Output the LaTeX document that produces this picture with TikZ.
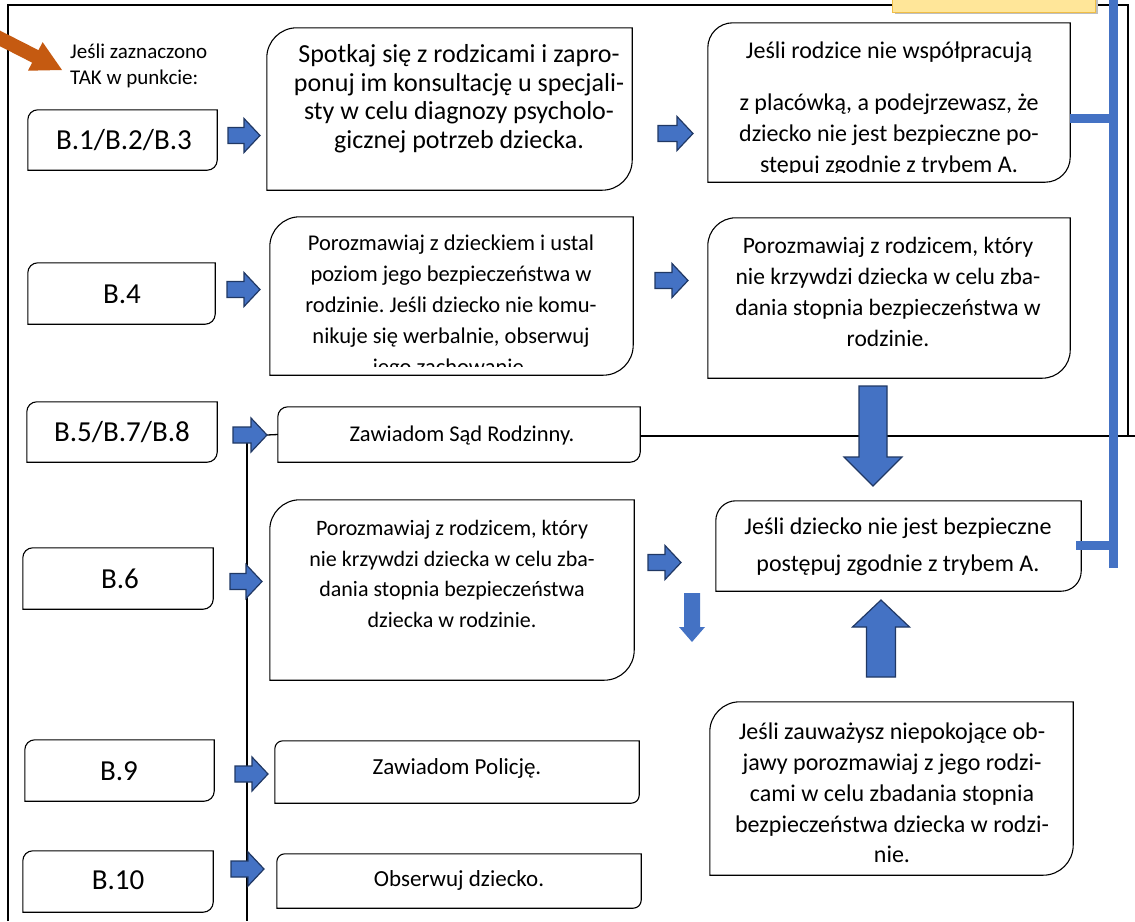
\documentclass[tikz,border=0pt]{standalone}
\usepackage{fontspec}
\setmainfont{Carlito}
\frenchspacing
\usetikzlibrary{calc,fit}
\definecolor{bl}{RGB}{68,114,196}
\definecolor{bld}{RGB}{32,56,100}
\definecolor{org}{RGB}{197,90,17}
\definecolor{yel}{RGB}{255,230,153}
\definecolor{yeld}{RGB}{240,190,70}
\tikzset{
  frame/.style={line width=2pt, black},
  thinline/.style={line width=1.3pt, black},
  boxline/.style={line width=1.1pt, black},
  blockarrow/.style={fill=bl, draw=bld, line width=1.2pt, line join=miter},
  softarrow/.style={fill=bl, draw=none},
  blueline/.style={line width=9pt, bl},
  txt/.style={align=center, inner sep=0pt, font=\fontsize{22}{29}\selectfont},
  lbl/.style={align=center, inner sep=0pt, font=\fontsize{29}{34}\selectfont},
  small/.style={align=center, inner sep=0pt, font=\fontsize{23}{28}\selectfont},
}
% diagonal-rounded box around a named node
\newcommand\dbox[2]{\draw[boxline] (#1.south west) -- ($(#1.north west)+(0,#2)$) .. controls ($(#1.north west)+(0,0.448*#2)$) and ($(#1.north west)+(0.448*#2,0)$) .. ($(#1.north west)+(#2,0)$) -- (#1.north east) -- ($(#1.south east)+(0,-#2)$) .. controls ($(#1.south east)+(0,-0.448*#2)$) and ($(#1.south east)+(-0.448*#2,0)$) .. ($(#1.south east)+(-#2,0)$) -- cycle;}
\newcommand\mkbox[6]{\node[fit={(#2,#3) (#4,#5)}, inner sep=0pt] (#1) {}; \dbox{#1}{#6}}
% right block arrow: x-start, x-tip, y-centre
\newcommand\rarr[3]{\filldraw[blockarrow] (#1,#3-8) -- (#2-16,#3-8) -- (#2-16,#3-17) -- (#2,#3) -- (#2-16,#3+17) -- (#2-16,#3+8) -- (#1,#3+8) -- cycle;}
% vertical block arrow: style, cx, tail y, head-base y, tip y, shaft half, head half
\newcommand\varr[7]{\filldraw[#1] (#2-#6,#3) -- (#2+#6,#3) -- (#2+#6,#4) -- (#2+#7,#4) -- (#2,#5) -- (#2-#7,#4) -- (#2-#6,#4) -- cycle;}
\begin{document}
\begin{tikzpicture}[x=1pt,y=-1pt]
\useasboundingbox (0,0) rectangle (1135,921);
\fill[white] (0,0) rectangle (1135,921);

% frame
\draw[frame] (8,921) -- (8,5) -- (1128,5) -- (1128,436);

% yellow box with shadow
\fill[black!25] (895,-5) rectangle (1098,14);
\filldraw[fill=yel, draw=yeld, line width=1pt] (892,-5) rectangle (1095,12);

% orange arrow
\fill[org] (-1.6,29.8) -- (38.5,50.2) -- (42.6,42.1) -- (62,70) -- (28,70.7) -- (32.1,62.6) -- (-8,42.2) -- cycle;
\node[align=left, anchor=west, inner sep=0pt, font=\fontsize{21}{26}\selectfont] (intro) at (70,66) {Jeśli zaznaczono\\TAK w punkcie:};

% left label boxes
\mkbox{bA}{28}{110}{217}{170}{10}
\node[lbl] (lA) at (124,140) {B.1/B.2/B.3};
\mkbox{bB}{28}{263}{215}{324}{10}
\node[lbl] (lB) at (122,294) {B.4};
\mkbox{bC}{27}{402}{217}{462}{10}
\node[lbl] (lC) at (122,432) {B.5/B.7/B.8};
\mkbox{bD}{23}{548}{213}{609}{10}
\node[lbl] (lD) at (120,579) {B.6};
\mkbox{bE}{25}{740}{214}{801}{10}
\node[lbl] (lE) at (119,771) {B.9};
\mkbox{bF}{23}{851}{213}{912}{10}
\node[lbl] (lF) at (118,880) {B.10};

% text boxes
\mkbox{t1}{267}{28}{632}{190}{30}
\node[txt, font=\fontsize{26}{28.5}\selectfont] (x1) at (459,98.5) {Spotkaj się z rodzicami i zapro-\\ponuj im konsultację u specjali-\\sty w celu diagnozy psycholo-\\gicznej potrzeb dziecka.};

\mkbox{t2}{708}{23}{1070}{182}{25}
\node[txt, font=\fontsize{24}{31}\selectfont] (x2a) at (889,52) {Jeśli rodzice nie współpracują};
\begin{scope}
\clip (708,60) rectangle (1070,172);
\node[txt, font=\fontsize{24}{31}\selectfont] (x2b) at (889,135) {z placówką, a podejrzewasz, że\\dziecko nie jest bezpieczne po-\\stępuj zgodnie z trybem A.};
\end{scope}

\mkbox{t3}{270}{217}{633}{375}{30}
\begin{scope}
\clip (270,217) rectangle (633,366);
\node[txt, font=\fontsize{22.5}{31}\selectfont] (x3) at (451,307) {Porozmawiaj z dzieckiem i ustal\\poziom jego bezpieczeństwa w\\rodzinie. Jeśli dziecko nie komu-\\nikuje się werbalnie, obserwuj\\jego zachowanie.};
\end{scope}

\mkbox{t4}{708}{218}{1070}{378}{28}
\node[txt, font=\fontsize{23.5}{31}\selectfont] (x4) at (888,292) {Porozmawiaj z rodzicem, który\\nie krzywdzi dziecka w celu zba-\\dania stopnia bezpieczeństwa w\\rodzinie.};

\mkbox{t5}{278}{407}{640}{462}{10}
\node[small, font=\fontsize{22.5}{28}\selectfont] (x5) at (462,435) {Zawiadom Sąd Rodzinny.};

\mkbox{t6}{270}{500}{634}{680}{30}
\node[txt, font=\fontsize{22}{30.7}\selectfont] (x6) at (452,574) {Porozmawiaj z rodzicem, który\\nie krzywdzi dziecka w celu zba-\\dania stopnia bezpieczeństwa\\dziecka w rodzinie.};

\mkbox{t7}{716}{501}{1081}{591}{20}
\node[txt, font=\fontsize{24}{37}\selectfont] (x7) at (898,547) {Jeśli dziecko nie jest bezpieczne\\postępuj zgodnie z trybem A.};

\mkbox{t8}{275}{741}{639}{803}{8}
\node[small] (x8) at (457,768) {Zawiadom Policję.};

\mkbox{t9}{277}{854}{641}{908}{8}
\node[small] (x9) at (459,880) {Obserwuj dziecko.};

\mkbox{t10}{710}{702}{1073}{875}{30}
\node[txt, font=\fontsize{24}{30.8}\selectfont] (x10) at (892,793) {Jeśli zauważysz niepokojące ob-\\jawy porozmawiaj z jego rodzi-\\cami w celu zbadania stopnia\\bezpieczeństwa dziecka w rodzi-\\nie.};

% connector lines
\draw[thinline] (247,443) -- (247,921);
\draw[thinline] (267,435) -- (t5.west);
\draw[thinline] (t5.east |- 0,436) -- (1135,436);

% right block arrows
\rarr{228}{260}{135.5}
\rarr{658}{693}{133.5}
\rarr{227}{260}{289.5}
\rarr{655}{688}{280.5}
\rarr{233}{267}{435}
\rarr{230}{262}{581.5}
\rarr{648}{681}{562.5}
\rarr{235}{268}{774}
\rarr{231}{264}{869}

% vertical block arrows
\varr{blockarrow}{873}{386}{457}{486}{14}{29}
\varr{blockarrow}{881}{677}{627}{600}{14.5}{28.5}
\varr{softarrow}{692}{593}{627}{642}{8}{13}

% blue bracket line
\draw[blueline] (1113,-5) -- (1113,568);
\draw[blueline] (t2.east |- 0,118) -- (1113,118);
\draw[blueline] (1076,545) -- (1113,545);
\end{tikzpicture}
\end{document}
